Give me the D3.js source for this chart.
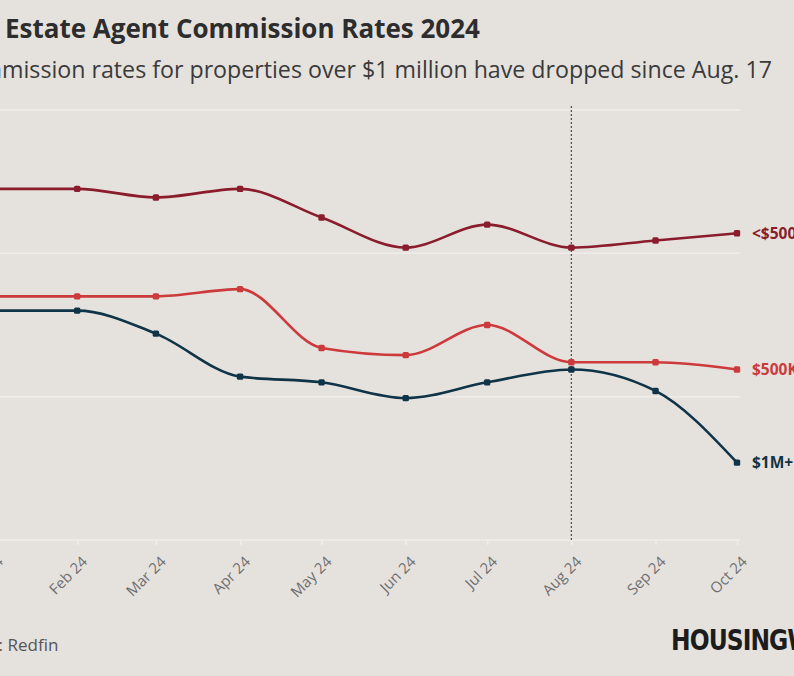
<!DOCTYPE html>
<html>
<head>
<meta charset="utf-8">
<script src="https://cdn.jsdelivr.net/npm/d3@7"></script>
<style>
  html, body { margin: 0; padding: 0; background: #e5e2de; }
  svg { display: block; }
</style>
</head>
<body>
<svg id="chart" width="794" height="676"></svg>
<script>
// ---- data ----
const months = ["2024-01-01","2024-02-01","2024-03-01","2024-04-01","2024-05-01","2024-06-01","2024-07-01","2024-08-01","2024-09-01","2024-10-01"];
const tickLabels = ["Jan 24","Feb 24","Mar 24","Apr 24","May 24","Jun 24","Jul 24","Aug 24","Sep 24","Oct 24"];
const seriesNames = ["<$500K", "$500K-$1M", "$1M+"];
const under500k = [2.445, 2.445, 2.439, 2.445, 2.425, 2.404, 2.420, 2.404, 2.409, 2.414];
const mid500kTo1m = [2.370, 2.370, 2.370, 2.375, 2.334, 2.329, 2.350, 2.324, 2.324, 2.319];
const over1m = [2.360, 2.360, 2.344, 2.314, 2.310, 2.299, 2.310, 2.319, 2.304, 2.254];
const yTicks = [2.2, 2.3, 2.4, 2.5];
const markerDate = "2024-08-01";

const colors = ["#8a1c2c", "#cc3a3c", "#0f3347"];

const parse = d3.timeParse("%Y-%m-%d");
const dates = months.map(parse);
const series = [under500k, mid500kTo1m, over1m].map((vals, i) => ({
  name: seriesNames[i], color: colors[i],
  points: vals.map((v, j) => ({ date: dates[j], value: v }))
}));

const svg = d3.select("#chart");

const x = d3.scaleTime().domain([dates[0], dates[dates.length - 1]]).range([-7, 737]);
const y = d3.scaleLinear().domain([2.2, 2.5]).range([540, 110]);

// title
svg.append("text").attr("x", -58).attr("y", 38)
  .attr("font-family", "'Open Sans', sans-serif").attr("font-weight", 700)
  .attr("font-size", 26).attr("fill", "#2d2d2d")
  .text("Real Estate Agent Commission Rates 2024");
svg.append("text").attr("x", -48).attr("y", 78)
  .attr("font-family", "'Open Sans', sans-serif").attr("font-weight", 400)
  .attr("font-size", 23.2).attr("fill", "#3a3a3a")
  .text("Commission rates for properties over $1 million have dropped since Aug. 17");

// gridlines
const grid = svg.append("g");
grid.selectAll("line").data(yTicks.slice(1)).join("line")
  .attr("x1", -60).attr("x2", 740)
  .attr("y1", d => y(d)).attr("y2", d => y(d))
  .attr("stroke", "#efedea").attr("stroke-width", 1.5);

// x axis
const xAxis = d3.axisBottom(x).tickValues(dates).tickFormat((d, i) => tickLabels[i]).tickSize(5).tickSizeOuter(0);
const gx = svg.append("g").attr("transform", `translate(0,${y(2.2)})`).call(xAxis);
gx.select(".domain").attr("stroke", "#efedea").attr("stroke-width", 1.5).attr("d", "M-60,0H740");
gx.selectAll(".tick line").attr("stroke", "#efedea").attr("stroke-width", 1.5);
gx.selectAll(".tick text")
  .attr("font-family", "'Open Sans', sans-serif").attr("font-size", 15).attr("fill", "#6e6e6e")
  .attr("text-anchor", "end").attr("dx", "0").attr("dy", "0")
  .attr("transform", "translate(5,17) rotate(-45)");

// y axis (labels fall off-canvas, as in the cropped original)
const yAxis = d3.axisLeft(y).tickValues(yTicks).tickFormat(d => d.toFixed(1) + "%").tickSize(0);
const gy = svg.append("g").attr("transform", "translate(-20,0)").call(yAxis);
gy.select(".domain").remove();

// dotted marker line
svg.append("line")
  .attr("x1", x(parse(markerDate))).attr("x2", x(parse(markerDate)))
  .attr("y1", 106).attr("y2", y(2.2))
  .attr("stroke", "#555").attr("stroke-width", 1.3).attr("stroke-dasharray", "2,2");

// lines
const line = d3.line().x(d => x(d.date)).y(d => y(d.value)).curve(d3.curveMonotoneX);
const g = svg.append("g");
series.forEach(s => {
  g.append("path").datum(s.points).attr("d", line)
    .attr("fill", "none").attr("stroke", s.color).attr("stroke-width", 2.6);
  g.selectAll(null).data(s.points).join("rect")
    .attr("x", d => x(d.date) - 3.2).attr("y", d => y(d.value) - 3.2)
    .attr("width", 6.4).attr("height", 6.4).attr("rx", 1.5)
    .attr("fill", s.color);
  const last = s.points[s.points.length - 1];
  g.append("text").attr("x", x(last.date) + 15).attr("y", y(last.value))
    .attr("dy", "0.35em")
    .attr("font-family", "'Open Sans', sans-serif").attr("font-weight", 700)
    .attr("font-size", 15.5).attr("fill", s.color).text(s.name);
});

// source and logo
svg.append("text").attr("x", -56).attr("y", 651)
  .attr("font-family", "'Open Sans', sans-serif").attr("font-size", 17).attr("fill", "#555")
  .text("Source: Redfin");
svg.append("text").attr("transform", "translate(671,650) scale(0.93,1)")
  .attr("font-family", "'DejaVu Sans Condensed', 'Liberation Sans Narrow', sans-serif").attr("font-weight", 700)
  .attr("font-size", 28).attr("fill", "#1c1c1c").attr("letter-spacing", "-1")
  .text("HOUSINGWIRE");
</script>
</body>
</html>
